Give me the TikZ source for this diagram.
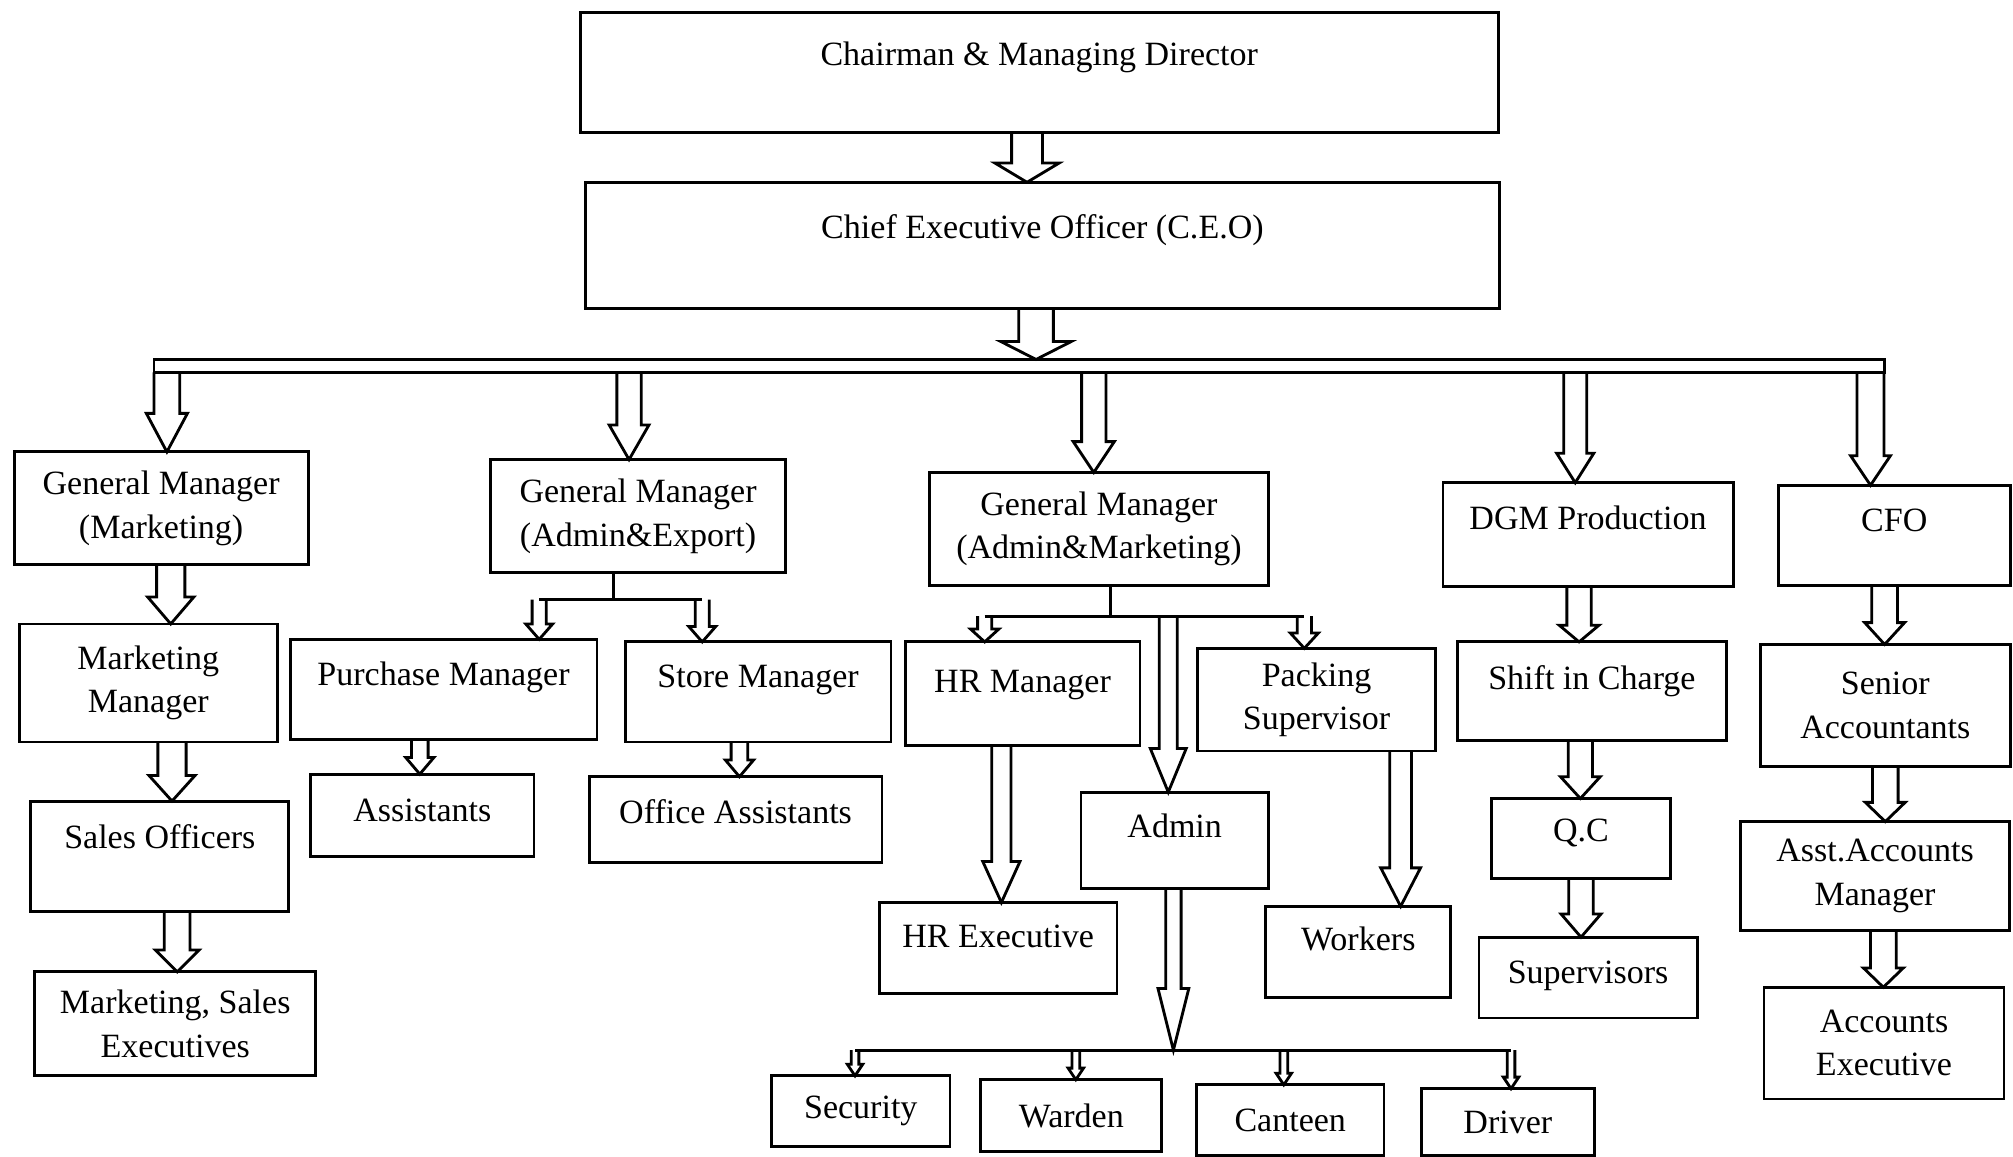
\documentclass[tikz,border=0pt]{standalone}
\usepackage{fontspec}
\setmainfont{Liberation Serif}
\usetikzlibrary{calc}

\begin{document}
\begin{tikzpicture}[x=1pt, y=-1pt,
        font=\fontsize{26.5}{34}\selectfont,
        box/.style={draw, line width=2.2pt, align=center, inner sep=0pt, outer sep=0pt},
        lift/.style={text height=19pt, text depth=#1},
        link/.style={line width=2.2pt},
        fatsize/.code args={#1/#2/#3}{\def\fatS{#1pt}\def\fatH{#2pt}\def\fatL{#3pt}},
        fat/.style={line width=2.2pt, line join=miter, to path={let \p1=(\tikztostart), \p2=(\tikztotarget) in
            (\x1-\fatS,\y1) -- (\x1-\fatS,\y2+\fatL) -- (\x1-\fatH,\y2+\fatL) -- (\x1,\y2)
            -- (\x1+\fatH,\y2+\fatL) -- (\x1+\fatS,\y2+\fatL) -- (\x1+\fatS,\y1)}}]

    \useasboundingbox (0,0) rectangle (1568,901);

    \node[box, minimum width=715, minimum height=93, lift=29.4pt] (cmd) at (809.5,56.5) {Chairman \& Managing Director};
    \node[box, minimum width=712, minimum height=98, lift=29.4pt] (ceo) at (812,191) {Chief Executive Officer (C.E.O)};
    \node[box, minimum width=1348, minimum height=10] (bus) at (794,285) {};

    \node[box, minimum width=229, minimum height=88] (gmm) at (125.5,396) {General Manager\\(Marketing)};
    \node[box, minimum width=230, minimum height=88] (gmae) at (497,402) {General Manager\\(Admin\&Export)};
    \node[box, minimum width=264, minimum height=88] (gmam) at (856,412) {General Manager\\(Admin\&Marketing)};
    \node[box, minimum width=226, minimum height=81, lift=27.4pt] (dgm) at (1237,416.5) {DGM Production};
    \node[box, minimum width=181, minimum height=78, lift=25.4pt] (cfo) at (1475.5,417) {CFO};

    \node[box, minimum width=201, minimum height=92] (mm) at (115.5,532) {Marketing\\Manager};
    \node[box, minimum width=201, minimum height=86, lift=31.4pt] (so) at (124.5,667) {Sales Officers};
    \node[box, minimum width=219, minimum height=81] (mse) at (136.5,797.5) {Marketing, Sales\\Executives};

    \node[box, minimum width=239, minimum height=78, lift=25.4pt] (pm) at (345.5,537) {Purchase Manager};
    \node[box, minimum width=207, minimum height=78, lift=25.4pt] (sm) at (590.5,539) {Store Manager};
    \node[box, minimum width=174, minimum height=64, lift=9.4pt] (as) at (329,635) {Assistants};
    \node[box, minimum width=228, minimum height=67, lift=13.4pt] (oa) at (573,638.5) {Office Assistants};

    \node[box, minimum width=183, minimum height=81, lift=21.4pt] (hrm) at (796.5,540.5) {HR Manager};
    \node[box, minimum width=185, minimum height=80] (ps) at (1025.5,545) {Packing\\Supervisor};
    \node[box, minimum width=146, minimum height=75, lift=23.4pt] (adm) at (915,654.5) {Admin};
    \node[box, minimum width=185, minimum height=71, lift=19.4pt] (hre) at (777.5,738.5) {HR Executive};
    \node[box, minimum width=144, minimum height=71, lift=21.4pt] (wk) at (1058,741.5) {Workers};
    \node[box, minimum width=139, minimum height=55] (sec) at (670.5,865.5) {Security};
    \node[box, minimum width=141, minimum height=56] (war) at (834.5,869) {Warden};
    \node[box, minimum width=146, minimum height=55] (can) at (1005,872.5) {Canteen};
    \node[box, minimum width=135, minimum height=52] (drv) at (1174.5,874) {Driver};

    \node[box, minimum width=210, minimum height=77, lift=21.4pt] (sic) at (1240,538.5) {Shift in Charge};
    \node[box, minimum width=139, minimum height=62, lift=13.4pt] (qc) at (1231.5,653) {Q.C};
    \node[box, minimum width=170, minimum height=63, lift=9.4pt] (sup) at (1237,761.5) {Supervisors};

    \node[box, minimum width=195, minimum height=95] (sa) at (1468.5,549.5) {Senior\\Accountants};
    \node[box, minimum width=209, minimum height=85] (aam) at (1460.5,682.5) {Asst.Accounts\\Manager};
    \node[box, minimum width=187, minimum height=87] (ae) at (1467.5,812.5) {Accounts\\Executive};

    \coordinate (b1) at (130,290);
    \coordinate (b2) at (490,290);
    \coordinate (b3) at (852,290);
    \coordinate (b4) at (1227,290);
    \coordinate (b5) at (1457,290);
    \coordinate (e0) at (478,467);
    \coordinate (e1) at (420,467);
    \coordinate (e2) at (547,467);
    \coordinate (m0) at (865,480);
    \coordinate (m1) at (767,480);
    \coordinate (m2) at (1016,480);
    \coordinate (m3) at (910,480);
    \coordinate (s1) at (666,818);
    \coordinate (s2) at (838,818);
    \coordinate (s3) at (1000,818);
    \coordinate (s4) at (1177,818);

    \draw[fat, fatsize=12/25/15] ([xshift=-9.5pt]cmd.south) to (ceo.north);
    \draw[fat, fatsize=13.5/27.5/14] ([xshift=-5pt]ceo.south) to (bus.north);

    \draw[fat, fatsize=10/16/30] (b1) to (gmm.north);
    \draw[fat, fatsize=9.5/15.5/27] (b2) to (gmae.north);
    \draw[fat, fatsize=9.5/16/24] (b3) to (gmam.north);
    \draw[fat, fatsize=9/14.5/23] (b4) to (dgm.north);
    \draw[fat, fatsize=10.5/15.5/23] (b5) to (cfo.north);

    \draw[fat, fatsize=11/18/21] ([xshift=7.5pt]gmm.south) to (mm.north);
    \draw[fat, fatsize=11/18/20] ([xshift=18.5pt]mm.south) to (so.north);
    \draw[fat, fatsize=10/17/17] ([xshift=13.5pt]so.south) to (mse.north);

    \draw[link] (e0 |- gmae.south) -- (e0);
    \draw[link] (e1) -- (e2);
    \draw[fat, fatsize=5.5/10.5/12] (e1) to (pm.north);
    \draw[fat, fatsize=5.5/10.5/12] (e2) to (sm.north);
    \draw[fat, fatsize=6.5/11/13] ([xshift=-18.5pt]pm.south) to (as.north);
    \draw[fat, fatsize=6.5/11/13] ([xshift=-14.5pt]sm.south) to (oa.north);

    \draw[link] (m0 |- gmam.south) -- (m0);
    \draw[link] (m1) -- (m2);
    \draw[fat, fatsize=5.5/11/10] (m1) to (hrm.north);
    \draw[fat, fatsize=5.5/11/12] (m2) to (ps.north);
    \draw[fat, fatsize=7/14/34] (m3) to (adm.north);
    \draw[fat, fatsize=7.5/14.5/32] ([xshift=-16.5pt]hrm.south) to (hre.north);
    \draw[fat, fatsize=8.5/15.5/30] ([xshift=65.5pt]ps.south) to (wk.north);

    \draw[fat, fatsize=6/12/48] ([xshift=-1pt]adm.south) to (adm.south |- s1);
    \draw[link] (s1) -- (s4);
    \draw[fat, fatsize=3/6/9] (s1) to (sec.north);
    \draw[fat, fatsize=3/6/9] (s2) to (war.north);
    \draw[fat, fatsize=3/6/9] (s3) to (can.north);
    \draw[fat, fatsize=3/6/9] (s4) to (drv.north);

    \draw[fat, fatsize=9.5/15.5/13] ([xshift=-7pt]dgm.south) to (sic.north);
    \draw[fat, fatsize=9.5/15.5/17] ([xshift=-9pt]sic.south) to (qc.north);
    \draw[fat, fatsize=9.5/15.5/18] (qc.south) to (sup.north);

    \draw[fat, fatsize=10/15.5/17] ([xshift=-7.5pt]cfo.south) to (sa.north);
    \draw[fat, fatsize=10/15.5/15] (sa.south) to (aam.north);
    \draw[fat, fatsize=10/15.5/15] ([xshift=6.5pt]aam.south) to (ae.north);

\end{tikzpicture}
\end{document}
